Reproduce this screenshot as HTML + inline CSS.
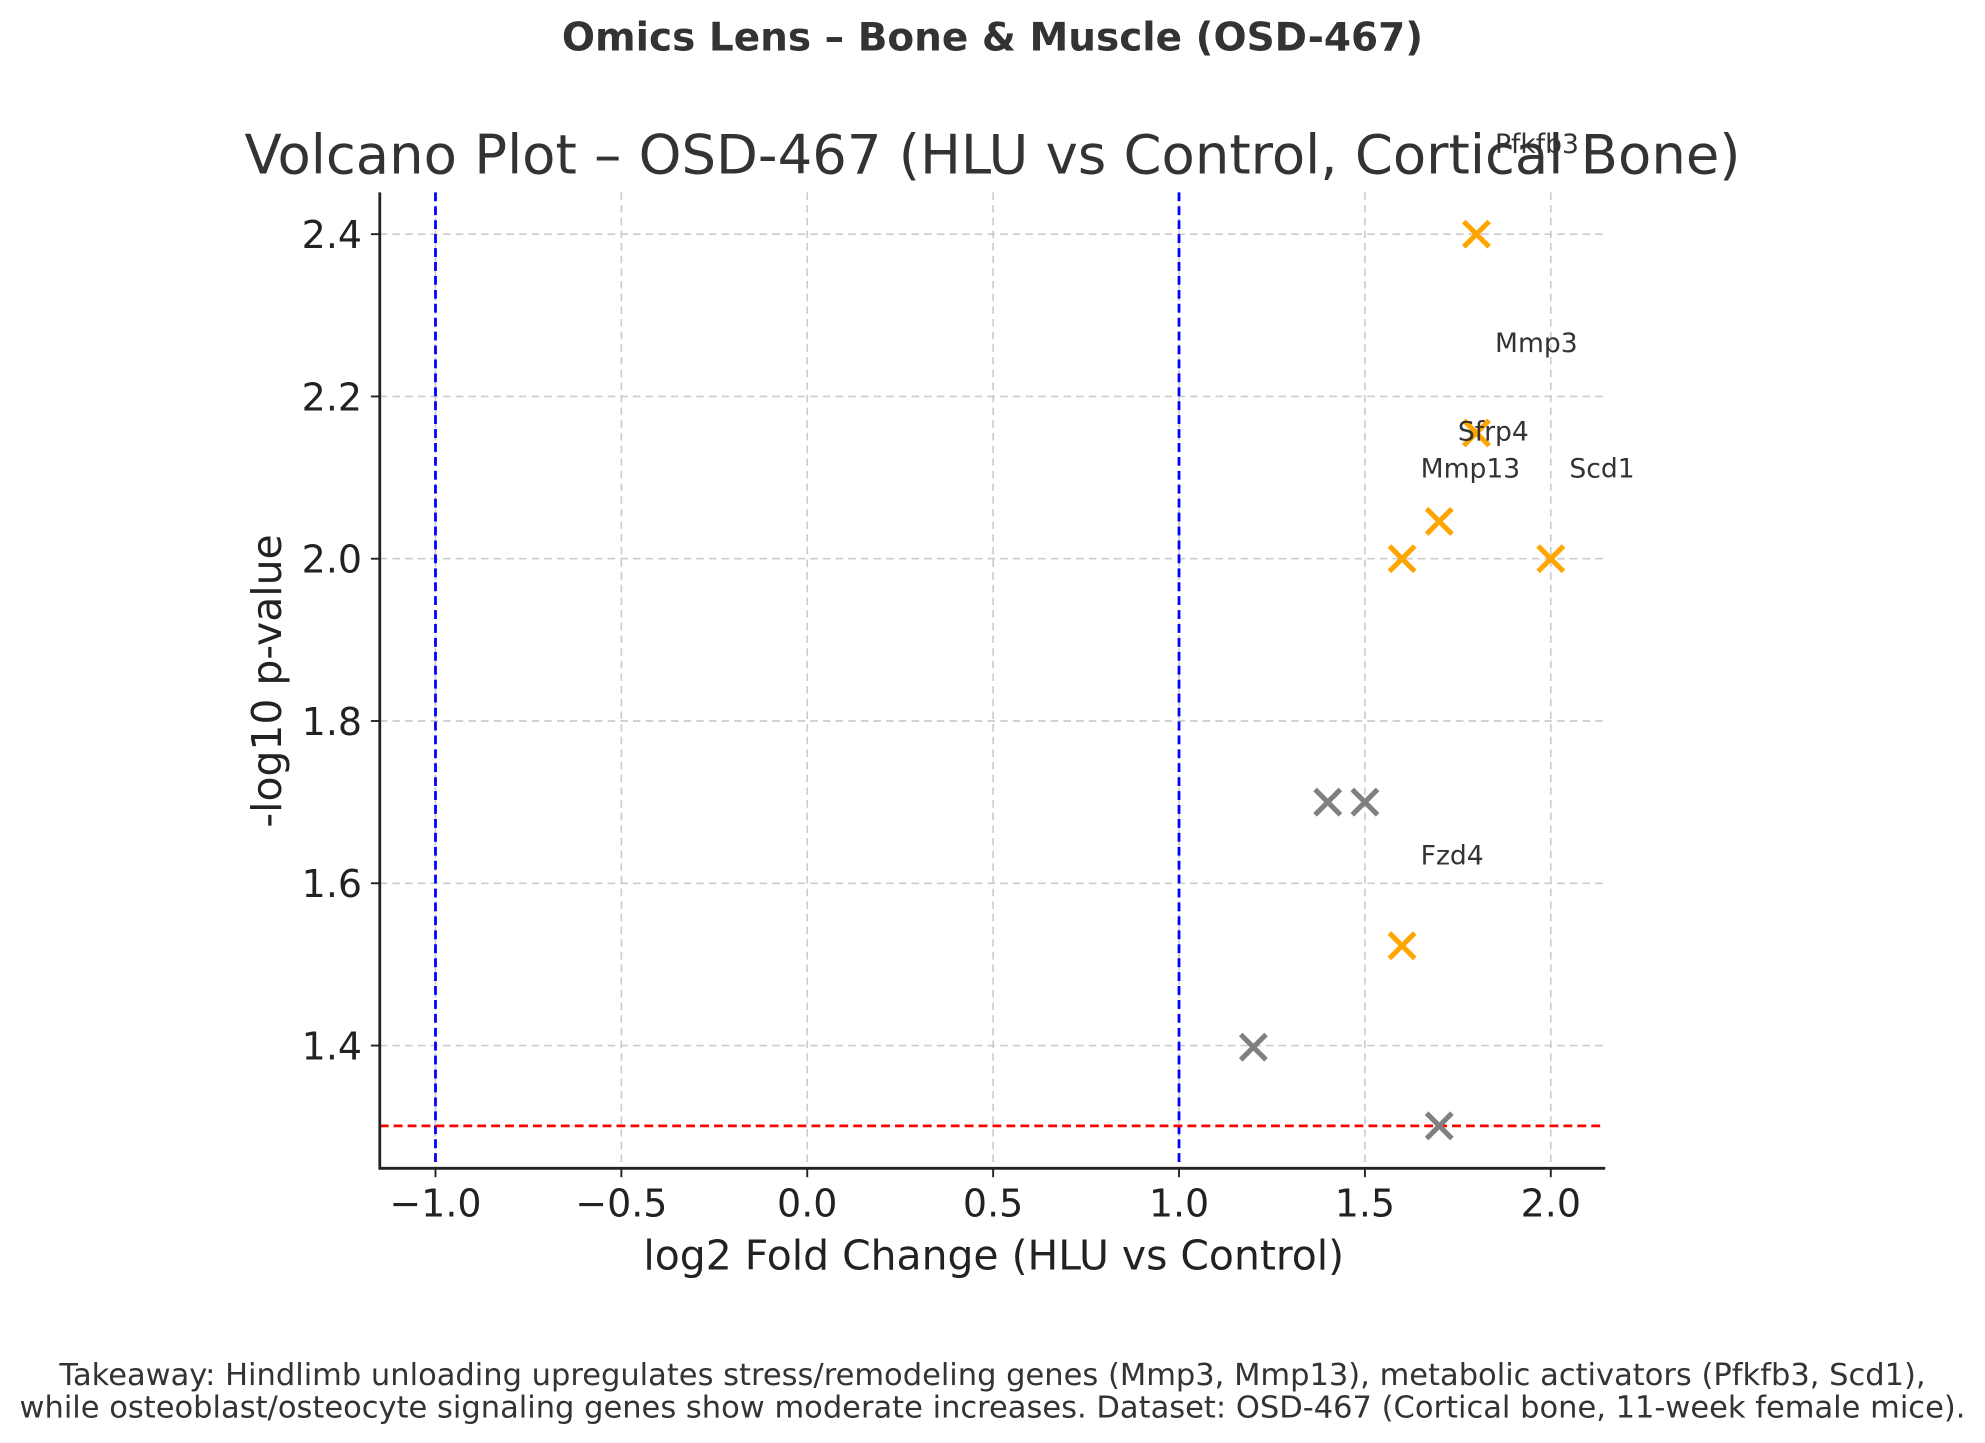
<!DOCTYPE html>
<html><head><meta charset="utf-8"><style>
html,body{margin:0;padding:0;background:#fff;}
svg{display:block;font-family:"DejaVu Sans","Liberation Sans",sans-serif;}
</style></head><body>
<svg id="chart" width="1985" height="1443" viewBox="0 0 1568 1140" preserveAspectRatio="none" xmlns="http://www.w3.org/2000/svg">
<rect width="1568" height="1140" fill="#fff"/>
<text x="784" y="40" font-size="30.8" font-weight="bold" fill="#333" text-anchor="middle">Omics Lens – Bone &amp; Muscle (OSD-467)</text>
<text x="784" y="137" font-size="43" fill="#333" text-anchor="middle">Volcano Plot – OSD-467 (HLU vs Control, Cortical Bone)</text>
<g id="grid"></g>
<g id="refs"></g>
<g id="marks"></g>
<g id="labels"></g>
<g id="axes"></g>
<text x="785" y="1003" font-size="32.3" fill="#222" text-anchor="middle">log2 Fold Change (HLU vs Control)</text>
<text transform="translate(222,538) rotate(-90)" font-size="32.3" fill="#222" text-anchor="middle">-log10 p-value</text>
<text x="784" y="1094" font-size="24.1" fill="#333" text-anchor="middle">Takeaway: Hindlimb unloading upregulates stress/remodeling genes (Mmp3, Mmp13), metabolic activators (Pfkfb3, Scd1),</text>
<text x="784" y="1120" font-size="24.1" fill="#333" text-anchor="middle">while osteoblast/osteocyte signaling genes show moderate increases. Dataset: OSD-467 (Cortical bone, 11-week female mice).</text>
</svg>
<script>
const geneNames = ["Pfkfb3","Mmp3","Sfrp4","Mmp13","Scd1","Fzd4"];
const geneFC = [1.8,1.8,1.7,1.6,2.0,1.6];
const geneP = [2.4,2.155,2.046,2.0,2.0,1.523];
const otherFC = [1.4,1.5,1.2,1.7];
const otherP = [1.7,1.7,1.398,1.301];
const xTicks = [-1.0,-0.5,0.0,0.5,1.0,1.5,2.0];
const xTickLabels = ["\u22121.0","\u22120.5","0.0","0.5","1.0","1.5","2.0"];
const yTicks = [1.4,1.6,1.8,2.0,2.2,2.4];
const yTickLabels = ["1.4","1.6","1.8","2.0","2.2","2.4"];
const fcThresh = [-1,1];
const pThresh = [1.301];

const L=300,R=1268,T=152,B=923;
const xs = v => 637.67 + v*293.67;
const ys = v => 826 - (v-1.4)*641;
const NS="http://www.w3.org/2000/svg";
function mk(parent,tag,attrs){const e=document.createElementNS(NS,tag);for(const k in attrs)e.setAttribute(k,attrs[k]);document.getElementById(parent).appendChild(e);return e;}

xTicks.forEach((t,i)=>{
  const g=mk('grid','line',{x1:xs(t),x2:xs(t),y1:T,y2:B,stroke:'#ccc','stroke-width':1.3,'stroke-dasharray':'6,4'});
  
  
  const tk=mk('axes','line',{x1:xs(t),x2:xs(t),y1:B,y2:B+7,stroke:'#222','stroke-width':1.5});
  
  
  const tx=mk('axes','text',{x:xs(t),y:B+38,'font-size':30,fill:'#222','text-anchor':'middle'});
  tx.textContent=xTickLabels[i];
  
  
});
yTicks.forEach((t,i)=>{
  const g=mk('grid','line',{x1:L,x2:R,y1:ys(t),y2:ys(t),stroke:'#ccc','stroke-width':1.3,'stroke-dasharray':'6,4'});
  
  
  const tk=mk('axes','line',{x1:L-7,x2:L,y1:ys(t),y2:ys(t),stroke:'#222','stroke-width':1.5});
  
  
  const tx=mk('axes','text',{x:L-14,y:ys(t)+11,'font-size':30,fill:'#222','text-anchor':'end'});
  tx.textContent=yTickLabels[i];
  
  
});
fcThresh.forEach(v=>{
  const l=mk('refs','line',{x1:xs(v),x2:xs(v),y1:T,y2:B,stroke:'#00f','stroke-width':2.2,'stroke-dasharray':'7,4'});
  
  
});
pThresh.forEach(v=>{
  const l=mk('refs','line',{x1:L,x2:R,y1:ys(v),y2:ys(v),stroke:'#f00','stroke-width':2.2,'stroke-dasharray':'7,4'});
  
  
});
function cross(x,y,color,name){
  const d=10;
  const p=mk('marks','path',{d:`M${x-d},${y-d}L${x+d},${y+d}M${x-d},${y+d}L${x+d},${y-d}`,stroke:color,'stroke-width':4,fill:'none'});
  
  
}
otherFC.forEach((v,i)=>cross(xs(v),ys(otherP[i]),'#808080','point-nonsig'));
geneFC.forEach((v,i)=>{
  cross(xs(v),ys(geneP[i]),'#ffa500','point-'+geneNames[i].toLowerCase());
  const t=mk('labels','text',{x:xs(v+0.05),y:ys(geneP[i]+0.1),'font-size':21,fill:'#333'});
  t.textContent=geneNames[i];
  
  
});
const ax=mk('axes','path',{d:`M${L},${T}L${L},${B}L${R},${B}`,stroke:'#222','stroke-width':2.2,fill:'none'});


</script>
</body></html>
